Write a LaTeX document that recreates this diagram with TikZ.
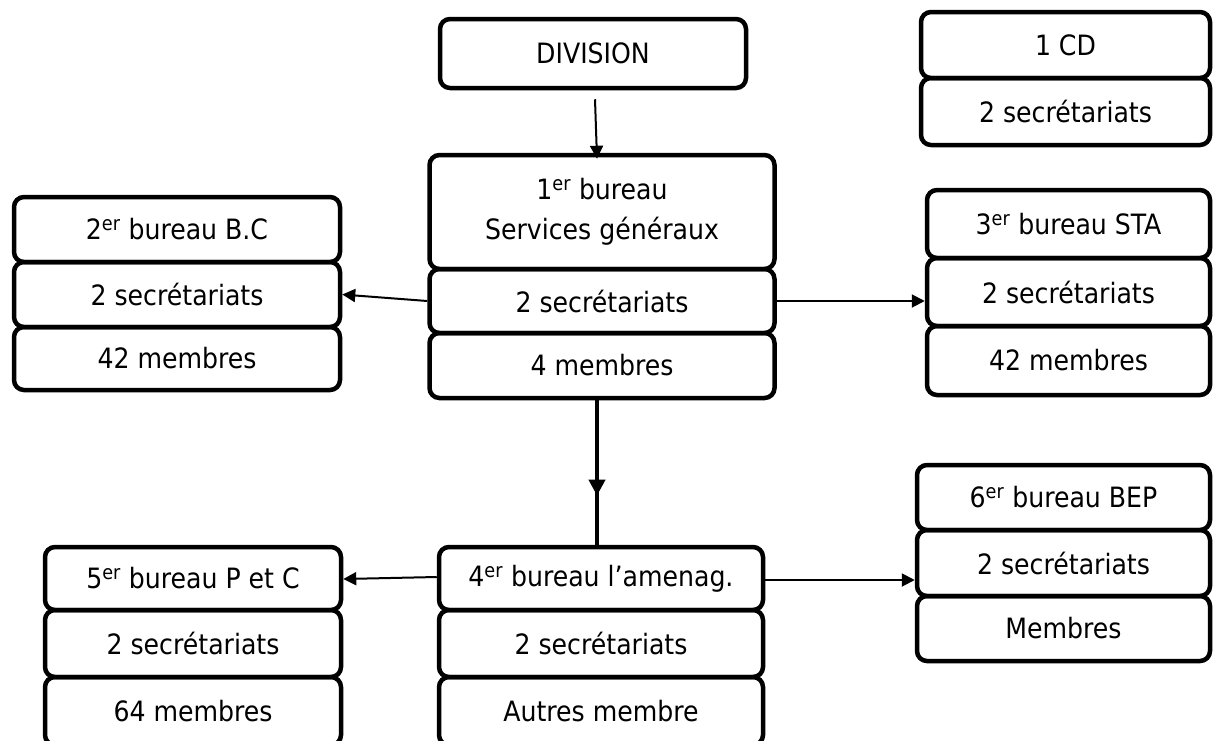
\documentclass[tikz,border=0pt]{standalone}
\usepackage{fontspec}
\setmainfont{DejaVu Sans Condensed}
\usetikzlibrary{arrows.meta,decorations.markings}
\tikzset{
  cell/.style={draw, line width=4.5pt, rounded corners=10pt, inner sep=0pt,
    align=center, font=\fontsize{28}{40}\selectfont},
  conn/.style={line width=2pt, -{Triangle[length=13pt,width=13pt]}},
  trunk/.style={line width=4.5pt, postaction={decorate},
    decoration={markings, mark=at position 0.66 with {\arrow{Triangle[length=16pt,width=16pt]}}}}
}
\newcommand{\er}{\textsuperscript{er}}
\begin{document}
\begin{tikzpicture}[x=1pt,y=-1pt]
\useasboundingbox (0,0) rectangle (1213,740);
% top
\node[cell, minimum width=306, minimum height=69] (div) at (593,53.5) {DIVISION};
% 1 CD
\node[cell, minimum width=289, minimum height=66] (cd) at (1065.5,45) {1 CD};
\node[cell, minimum width=289, minimum height=67] (cds) at (1065.5,111.5) {2 secrétariats};
% 1er bureau
\node[cell, minimum width=345, minimum height=114] (b1) at (602,212) {1\er{} bureau\\Services généraux};
\node[cell, minimum width=345, minimum height=64] (b1s) at (602,301) {2 secrétariats};
\node[cell, minimum width=345, minimum height=65] (b1m) at (602,365.5) {4 membres};
% 2er bureau
\node[cell, minimum width=326, minimum height=65] (b2) at (177,229.5) {2\er{} bureau B.C};
\node[cell, minimum width=326, minimum height=65] (b2s) at (177,294.5) {2 secrétariats};
\node[cell, minimum width=326, minimum height=63] (b2m) at (177,358.5) {42 membres};
% 3er bureau
\node[cell, minimum width=283, minimum height=68] (b3) at (1068.5,224) {3\er{} bureau STA};
\node[cell, minimum width=283, minimum height=68] (b3s) at (1068.5,292) {2 secrétariats};
\node[cell, minimum width=283, minimum height=69] (b3m) at (1068.5,360.5) {42 membres};
% 4er bureau
\node[cell, minimum width=324, minimum height=63] (b4) at (601,578.5) {4\er{} bureau l’amenag.};
\node[cell, minimum width=324, minimum height=67] (b4s) at (601,643.5) {2 secrétariats};
\node[cell, minimum width=324, minimum height=68] (b4m) at (601,711) {Autres membre};
% 5er bureau
\node[cell, minimum width=296, minimum height=63] (b5) at (193,578.5) {5\er{} bureau P et C};
\node[cell, minimum width=296, minimum height=67] (b5s) at (193,643.5) {2 secrétariats};
\node[cell, minimum width=296, minimum height=68] (b5m) at (193,711) {64 membres};
% 6er bureau
\node[cell, minimum width=293, minimum height=65] (b6) at (1063.5,497.5) {6\er{} bureau BEP};
\node[cell, minimum width=293, minimum height=66] (b6s) at (1063.5,563) {2 secrétariats};
\node[cell, minimum width=293, minimum height=65] (b6m) at (1063.5,628.5) {Membres};
% connectors
\draw[conn] ([xshift=2pt,yshift=-9pt]div.south) -- ([xshift=-5pt,yshift=-6pt]b1.north);
\draw[conn] (b1s.west) -- (b2s.east);
\draw[conn] (b1s.east) -- (b1s.east -| b3s.west);
\draw[trunk] (b1m.south -| 597,0) -- (b4.north -| 597,0);
\draw[conn] ([yshift=1.5pt]b4.west) -- ([yshift=-0.5pt]b5.east);
\draw[conn] ([yshift=-1.5pt]b4.east) -- ([yshift=-1.5pt]b4.east -| b6s.west);
\end{tikzpicture}
\end{document}
